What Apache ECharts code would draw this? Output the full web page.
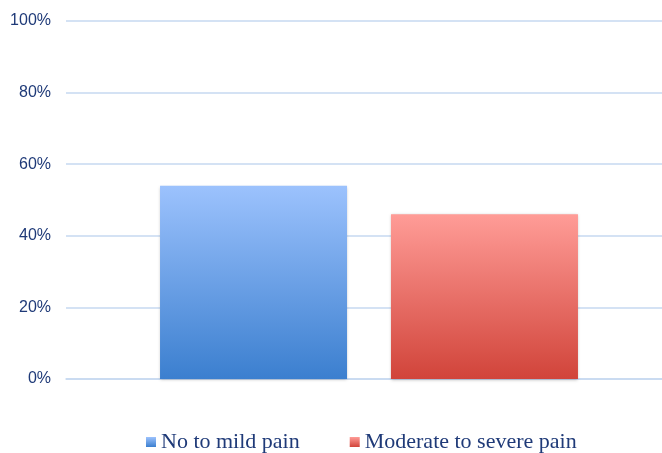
<!DOCTYPE html>
<html>
<head>
<meta charset="utf-8">
<script src="https://cdn.jsdelivr.net/npm/echarts@6/dist/echarts.min.js"></script>
<style>
  html, body { margin: 0; padding: 0; background: #fff; }
  #chart { width: 662px; height: 453px; }
</style>
</head>
<body>
<div id="chart"></div>
<script>
// 数据
const categories = [''];
const seriesNames = ['No to mild pain', 'Moderate to severe pain'];
const noToMild = [54];
const moderateToSevere = [46];
const yTicks = [0, 20, 40, 60, 80, 100];

function grad(top, bottom) {
  return new echarts.graphic.LinearGradient(0, 0, 0, 1, [
    { offset: 0, color: top },
    { offset: 1, color: bottom },
  ]);
}

const chart = echarts.init(document.getElementById('chart'));
const textColor = '#1f3a78';

chart.setOption({
  animation: false,
  grid: { left: 66, right: -10, top: 21, bottom: 74, outerBoundsMode: 'none' },
  legend: {
    left: 141,
    top: 426,
    itemWidth: 10,
    itemHeight: 10,
    itemGap: 50,
    icon: 'rect',
    textStyle: {
      fontFamily: 'Liberation Serif',
      fontSize: 22,
      color: textColor,
    },
    data: seriesNames,
  },
  xAxis: {
    type: 'category',
    data: categories,
    axisLine: { lineStyle: { color: '#c6d9f0', width: 1.5 } },
    axisTick: { show: false },
    axisLabel: { show: false },
  },
  yAxis: {
    type: 'value',
    min: yTicks[0],
    max: yTicks[yTicks.length - 1],
    interval: 20,
    axisLabel: {
      formatter: '{value}%',
      fontFamily: 'Liberation Sans',
      fontSize: 16,
      color: textColor,
      margin: 15,
    },
    axisLine: { show: false },
    axisTick: { show: false },
    splitLine: { lineStyle: { color: '#c6d9f0', width: 1.5 } },
  },
  series: [
    {
      name: seriesNames[0],
      type: 'bar',
      data: noToMild,
      barWidth: 187,
      barGap: '23.5%',
      itemStyle: {
        color: grad('#9cc2fd', '#3b7fcf'),
        shadowColor: 'rgba(0,0,0,0.25)',
        shadowBlur: 3,
        shadowOffsetY: 1,
      },
    },
    {
      name: seriesNames[1],
      type: 'bar',
      data: moderateToSevere,
      barWidth: 187,
      itemStyle: {
        color: grad('#ff9c97', '#d1443a'),
        shadowColor: 'rgba(0,0,0,0.25)',
        shadowBlur: 3,
        shadowOffsetY: 1,
      },
    },
  ],
});
</script>
</body>
</html>
